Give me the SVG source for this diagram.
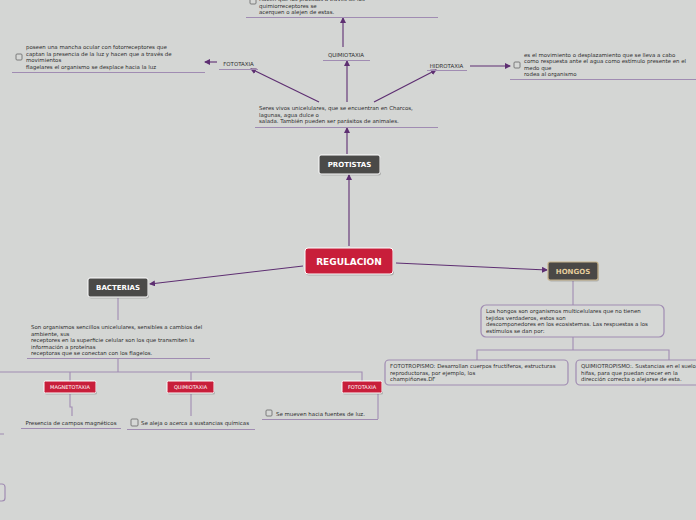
<svg xmlns="http://www.w3.org/2000/svg" width="696" height="520" viewBox="0 0 696 520">
<defs>
<marker id="ah" markerWidth="6" markerHeight="6" refX="5" refY="3" orient="auto" markerUnits="userSpaceOnUse"><path d="M0,0 L6,3 L0,6 Z" fill="#5e2f72"/></marker>
<style>
.t{font-family:"DejaVu Sans","Liberation Sans",sans-serif;font-size:5.45px;fill:#2e2e2e}
.c{font-family:"DejaVu Sans","Liberation Sans",sans-serif;font-size:5.45px;fill:#2e2e2e;text-anchor:middle}
.b{font-family:"DejaVu Sans","Liberation Sans",sans-serif;font-weight:bold;fill:#fff;text-anchor:middle}
.w{font-family:"DejaVu Sans","Liberation Sans",sans-serif;font-size:5px;fill:#fff;text-anchor:middle}
.ar{stroke:#5e2f72;stroke-width:1.1;fill:none;marker-end:url(#ah)}
.ln{stroke:#a08cb2;stroke-width:1.1;fill:none}
.ul{stroke:#a08cb2;stroke-width:1}
.cb{fill:#d6d8d6;stroke:#666;stroke-width:0.8}
.red{fill:#c81e3a;stroke:#fff;stroke-width:1}
.dk{fill:#4a4a48;stroke:#fff;stroke-width:1}
.bx{fill:#d6d8d6;stroke:#a08cb2;stroke-width:1.2}
.sh{fill:#000;opacity:0.18}
</style>
</defs>
<rect width="696" height="520" fill="#d4d6d4"/>
<g id="connectors">
<line class="ar" x1="349" y1="246" x2="349" y2="175"/>
<line class="ar" x1="347" y1="154" x2="347" y2="128"/>
<line class="ar" x1="319" y1="102" x2="251" y2="69"/>
<line class="ar" x1="347" y1="102" x2="347" y2="61"/>
<line class="ar" x1="374" y1="102" x2="436" y2="70"/>
<line class="ar" x1="343" y1="47" x2="343" y2="18"/>
<line class="ar" x1="217" y1="62" x2="205" y2="62"/>
<line class="ar" x1="470" y1="66" x2="510" y2="66"/>
<line class="ar" x1="396" y1="263" x2="547" y2="270"/>
<line class="ar" x1="303" y1="266" x2="150" y2="284"/>
<path class="ln" d="M573,281 V305"/>
<path class="ln" d="M573,337 V350 M477,360 V350 H669 V360"/>
<path class="ln" d="M118,298 V320"/>
<path class="ln" d="M118,358 V372 M0,372 H362 V381 M70,372 V381 M191,372 V381"/>
<path class="ln" d="M70,394 V407 H72 V416"/>
<path class="ln" d="M191,394 V416"/>
<path class="ln" d="M378,394 V419"/>
<line class="ul" x1="0" y1="434" x2="4" y2="434"/>
<rect class="bx" x="-8" y="484" width="13" height="17" rx="3"/>
</g>
<g id="top-note">
<rect class="cb" x="250" y="-3" width="6" height="7" rx="1"/>
<text class="t" x="259" y="1">Hacen que los protistas a través de los</text>
<text class="t" x="259" y="7.5">quimiorreceptores se</text>
<text class="t" x="259" y="14">acerquen o alejen de estas.</text>
<line class="ul" x1="246" y1="17.5" x2="438" y2="17.5"/>
</g>
<g id="quimiotaxia-p">
<text class="c" x="346" y="57">QUIMIOTAXIA</text>
<line class="ul" x1="323" y1="60.5" x2="370" y2="60.5"/>
</g>
<g id="fototaxia-p">
<text class="c" x="238.5" y="66">FOTOTAXIA</text>
<line class="ul" x1="219" y1="69.5" x2="258" y2="69.5"/>
</g>
<g id="fototaxia-note">
<rect class="cb" x="16" y="54" width="6" height="6" rx="1"/>
<text class="t" x="26" y="49">poseen una mancha ocular con fotorreceptores que</text>
<text class="t" x="26" y="55.5">captan la presencia de la luz y hacen que a través de</text>
<text class="t" x="26" y="62">movimientos</text>
<text class="t" x="26" y="68.5">flagelares el organismo se desplace hacia la luz</text>
<line class="ul" x1="12" y1="72.5" x2="205" y2="72.5"/>
</g>
<g id="hidrotaxia">
<text class="c" x="446.5" y="68">HIDROTAXIA</text>
<line class="ul" x1="427" y1="70.5" x2="467" y2="70.5"/>
</g>
<g id="hidrotaxia-note">
<rect class="cb" x="514" y="62" width="6" height="6" rx="1"/>
<text class="t" x="524" y="57">es el movimiento o desplazamiento que se lleva a cabo</text>
<text class="t" x="524" y="63">como respuesta ante el agua como estímulo presente en el</text>
<text class="t" x="524" y="69.5">medo que</text>
<text class="t" x="524" y="76">rodea al organismo</text>
<line class="ul" x1="510" y1="79.5" x2="696" y2="79.5"/>
</g>
<g id="protistas-note">
<text class="t" x="259" y="110">Seres vivos unicelulares, que se encuentran en Charcos,</text>
<text class="t" x="259" y="116.5">lagunas, agua dulce o</text>
<text class="t" x="259" y="123">salada. También pueden ser parásitos de animales.</text>
<line class="ul" x1="255" y1="127.5" x2="438" y2="127.5"/>
</g>
<g id="protistas">
<rect class="sh" x="320" y="156.5" width="61" height="19" rx="2"/>
<rect class="dk" x="319" y="155" width="61" height="19" rx="2"/>
<text class="b" x="349.5" y="167" font-size="7">PROTISTAS</text>
</g>
<g id="regulacion">
<rect class="sh" x="306" y="249.5" width="88" height="26" rx="3"/>
<rect class="red" x="305" y="248" width="88" height="26" rx="3"/>
<text class="b" x="349" y="265" font-size="9">REGULACION</text>
</g>
<g id="hongos">
<rect class="sh" x="549" y="263.5" width="50" height="18" rx="2"/>
<rect x="548" y="262" width="50" height="18" rx="2" fill="#4a4846" stroke="#c8b48c" stroke-width="1.2"/>
<text class="b" x="573" y="274" font-size="7" style="fill:#e3cc9c">HONGOS</text>
</g>
<g id="hongos-note">
<rect class="bx" x="481" y="305" width="183" height="32" rx="5"/>
<text class="t" x="486" y="313">Los hongos son organismos multicelulares que no tienen</text>
<text class="t" x="486" y="319.5">tejidos verdaderos, estos son</text>
<text class="t" x="486" y="326">descomponedores en los ecosistemas. Las respuestas a los</text>
<text class="t" x="486" y="332.5">estímulos se dan por:</text>
</g>
<g id="fototropismo">
<rect class="bx" x="385" y="360" width="183" height="25" rx="4"/>
<text class="t" x="390" y="368">FOTOTROPISMO: Desarrollan cuerpos fructíferos, estructuras</text>
<text class="t" x="390" y="374.5">reproductoras, por ejemplo, los</text>
<text class="t" x="390" y="381">champiñones.DF</text>
</g>
<g id="quimiotropismo">
<rect class="bx" x="576" y="360" width="126" height="25" rx="4"/>
<text class="t" x="581" y="368">QUIMIOTROPISMO:. Sustancias en el suelo</text>
<text class="t" x="581" y="374.5">hifas, para que puedan crecer en la</text>
<text class="t" x="581" y="381">dirección correcta o alejarse de esta.</text>
</g>
<g id="bacterias">
<rect class="sh" x="89" y="279.5" width="60" height="19" rx="2"/>
<rect class="dk" x="88" y="278" width="60" height="19" rx="2"/>
<text class="b" x="118" y="290" font-size="7">BACTERIAS</text>
</g>
<g id="bacterias-note">
<text class="t" x="31" y="329">Son organismos sencillos unicelulares, sensibles a cambios del</text>
<text class="t" x="31" y="335.5">ambiente, sus</text>
<text class="t" x="31" y="342">receptores en la superficie celular son los que transmiten la</text>
<text class="t" x="31" y="348.5">información a proteínas</text>
<text class="t" x="31" y="355">receptoras que se conectan con los flagelos.</text>
<line class="ul" x1="27" y1="358.5" x2="210" y2="358.5"/>
</g>
<g id="magnetotaxia">
<rect class="sh" x="45" y="382.5" width="52" height="12" rx="1.5"/>
<rect class="red" x="44" y="381" width="52" height="12" rx="1.5"/>
<text class="w" x="70" y="389">MAGNETOTAXIA</text>
</g>
<g id="magnetotaxia-note">
<text class="c" x="71" y="425">Presencia de campos magnéticos</text>
<line class="ul" x1="21" y1="428.5" x2="121" y2="428.5"/>
</g>
<g id="quimiotaxia-b">
<rect class="sh" x="168" y="382.5" width="47" height="12" rx="1.5"/>
<rect class="red" x="167" y="381" width="47" height="12" rx="1.5"/>
<text class="w" x="190.5" y="389">QUIMIOTAXIA</text>
</g>
<g id="quimiotaxia-b-note">
<rect class="cb" x="131" y="419" width="7" height="7" rx="1"/>
<text class="t" x="141" y="425">Se aleja o acerca a sustancias químicas</text>
<line class="ul" x1="127" y1="429.5" x2="255" y2="429.5"/>
</g>
<g id="fototaxia-b">
<rect class="sh" x="343" y="382.5" width="40" height="12" rx="1.5"/>
<rect class="red" x="342" y="381" width="40" height="12" rx="1.5"/>
<text class="w" x="362" y="389">FOTOTAXIA</text>
</g>
<g id="fototaxia-b-note">
<rect class="cb" x="266" y="410" width="6" height="6" rx="1"/>
<text class="t" x="276" y="415.5">Se mueven hacia fuentes de luz.</text>
<line class="ul" x1="262" y1="419.5" x2="378" y2="419.5"/>
</g>
</svg>
